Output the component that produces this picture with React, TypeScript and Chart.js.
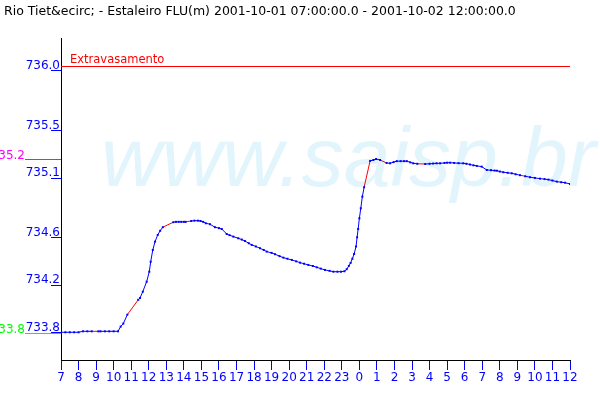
import React, { useEffect, useRef } from "react";
import { Chart, registerables } from "chart.js";

Chart.register(...registerables);

const TITLE = "Rio Tiet&ecirc; - Estaleiro FLU(m) 2001-10-01 07:00:00.0 - 2001-10-02 12:00:00.0";
const WATERMARK = "www.saisp.br";

// hours since 2001-10-01 00:00
const times = [
  7.0, 7.25, 7.5, 7.75, 8.0, 8.25, 8.5, 8.75,
  9.13, 9.25, 9.5, 9.75, 10.0, 10.25, 10.4, 10.55, 10.78,
  11.4, 11.5, 11.66, 11.88, 12.03, 12.11, 12.23, 12.36, 12.51, 12.65, 12.8,
  13.4, 13.55, 13.7, 13.85, 14.0, 14.1,
  14.42, 14.6, 14.8, 14.95, 15.1, 15.25, 15.49, 15.77, 16.0, 16.16, 16.44, 16.6, 16.82,
  17.1, 17.3, 17.48, 17.7, 17.87, 18.1, 18.34, 18.55, 18.72, 19.0, 19.19, 19.45, 19.67,
  19.9, 20.15, 20.4, 20.62, 20.85, 21.09, 21.35, 21.57, 21.8, 22.04, 22.3, 22.52, 22.75,
  22.95, 23.15, 23.28, 23.4, 23.5, 23.6, 23.7, 23.81, 23.87, 23.93, 24.0, 24.08, 24.17, 24.27,
  24.61, 24.8, 24.95, 25.18,
  25.55, 25.75, 25.95, 26.13, 26.35, 26.55, 26.7, 26.9, 27.07, 27.3,
  27.75, 28.0, 28.2, 28.4, 28.6, 28.85, 29.0, 29.17, 29.4, 29.65, 29.92, 30.1, 30.3, 30.5,
  30.69, 30.97, 31.26, 31.5, 31.7, 31.83, 32.0, 32.2, 32.45, 32.68, 32.9, 33.15, 33.45,
  33.72, 34.0, 34.29, 34.55, 34.77, 35.0, 35.25, 35.5, 35.72, 36.0,
];

const levels = [
  733.804, 733.804, 733.804, 733.804, 733.804, 733.812, 733.812, 733.812,
  733.812, 733.812, 733.812, 733.812, 733.812, 733.812, 733.852, 733.877, 733.952,
  734.077, 734.092, 734.145, 734.229, 734.313, 734.397, 734.496, 734.566, 734.622, 734.657, 734.687,
  734.729, 734.732, 734.732, 734.732, 734.732, 734.732,
  734.739, 734.742, 734.742, 734.739, 734.732, 734.72, 734.712, 734.687, 734.679, 734.672, 734.63, 734.62, 734.608,
  734.594, 734.583, 734.571, 734.552, 734.538, 734.525, 734.51, 734.496, 734.482, 734.471, 734.46, 734.444, 734.431,
  734.422, 734.412, 734.4, 734.389, 734.38, 734.37, 734.361, 734.35, 734.339, 734.328, 734.32, 734.313, 734.313,
  734.313, 734.317, 734.334, 734.362, 734.387, 734.422, 734.462, 734.525, 734.602, 734.672, 734.762, 734.846, 734.944, 735.023,
  735.244, 735.252, 735.26, 735.252,
  735.227, 735.224, 735.234, 735.242, 735.242, 735.242, 735.242, 735.232, 735.224, 735.22,
  735.218, 735.22, 735.222, 735.224, 735.224, 735.227, 735.229, 735.229, 735.227, 735.225, 735.224, 735.22, 735.214, 735.207,
  735.202, 735.196, 735.168, 735.166, 735.163, 735.162, 735.155, 735.149, 735.144, 735.14, 735.132, 735.124, 735.115,
  735.107, 735.101, 735.095, 735.091, 735.087, 735.079, 735.07, 735.065, 735.061, 735.05,
];

const yTickValues = [736.0, 735.5, 735.1, 734.6, 734.2, 733.8];
const xTickHours = Array.from({ length: 30 }, (_, i) => 7 + i);

const overflowLevel = 736.042;
const overflowLabel = "Extravasamento";
const alertLevel = 735.261;
const alertLabel = "735.2";
const baseLevel = 733.796;
const baseLabel = "733.8";

const FONT = '"DejaVu Sans", sans-serif';

export default function App() {
  const ref = useRef<HTMLCanvasElement | null>(null);

  useEffect(() => {
    document.body.style.margin = "0";
    const canvas = ref.current!;
    const extras = {
      id: "extras",
      beforeDatasetsDraw(chart: any) {
        const { ctx, chartArea } = chart;
        ctx.save();
        ctx.beginPath();
        ctx.rect(chartArea.left, chartArea.top, chartArea.right - chartArea.left + 30, chartArea.bottom - chartArea.top);
        ctx.clip();
        ctx.fillStyle = "rgb(226,245,253)";
        ctx.font = 'italic 84px "Liberation Sans", sans-serif';
        ctx.textAlign = "left";
        ctx.textBaseline = "alphabetic";
        ctx.fillText(WATERMARK, 101, 186);
        ctx.restore();
      },
      afterDraw(chart: any) {
        const { ctx, chartArea, scales } = chart;
        const y = scales.y;
        ctx.save();
        ctx.textBaseline = "alphabetic";
        // title
        ctx.font = "12.5px " + FONT;
        ctx.fillStyle = "#000";
        ctx.textAlign = "left";
        ctx.fillText(TITLE, 4, 15);
        ctx.font = "12px " + FONT;
        // overflow line
        const yo = Math.round(y.getPixelForValue(overflowLevel)) + 0.5;
        ctx.strokeStyle = "#ff0000";
        ctx.lineWidth = 1;
        ctx.beginPath();
        ctx.moveTo(chartArea.left, yo);
        ctx.lineTo(chartArea.right, yo);
        ctx.stroke();
        ctx.fillStyle = "#ff0000";
        ctx.font = "11.5px " + FONT;
        ctx.fillText(overflowLabel, 70, yo - 4);
        ctx.font = "12px " + FONT;
        // alert line
        const ya = Math.round(y.getPixelForValue(alertLevel)) + 0.5;
        ctx.strokeStyle = "#ff00ff";
        ctx.beginPath();
        ctx.moveTo(25, ya);
        ctx.lineTo(chartArea.left, ya);
        ctx.stroke();
        ctx.fillStyle = "#ff00ff";
        ctx.textAlign = "right";
        ctx.fillText(alertLabel, 25, ya - 1);
        // base line
        const yb = Math.round(y.getPixelForValue(baseLevel)) + 0.5;
        ctx.strokeStyle = "#00ff00";
        ctx.beginPath();
        ctx.moveTo(25, yb);
        ctx.lineTo(chartArea.left, yb);
        ctx.stroke();
        ctx.fillStyle = "#00ff00";
        ctx.fillText(baseLabel, 25, yb - 1);
        ctx.restore();
      },
    };

    const chart = new Chart(canvas, {
      type: "line",
      data: {
        datasets: [
          {
            data: times.map((t, i) => ({ x: t, y: levels[i] })),
            borderColor: "#0000ff",
            backgroundColor: "#0000ff",
            borderWidth: 1,
            pointStyle: "rect",
            pointRadius: 1.4,
            pointBorderWidth: 0,
            tension: 0,
            segment: {
              borderColor: (c: any) => (c.p1.parsed.x - c.p0.parsed.x > 0.3 ? "#ff0000" : "#0000ff"),
            },
          },
        ],
      },
      options: {
        animation: false,
        responsive: false,
        maintainAspectRatio: false,
        layout: { padding: { top: 38, right: 30, left: 0, bottom: 0 } },
        plugins: { legend: { display: false }, tooltip: { enabled: false }, title: { display: false } },
        scales: {
          x: {
            type: "linear",
            min: 7,
            max: 36,
            afterBuildTicks: (s: any) => {
              s.ticks = xTickHours.map((v) => ({ value: v }));
            },
            afterFit: (s: any) => {
              s.height = 40;
            },
            ticks: {
              autoSkip: false,
              maxRotation: 0,
              color: "#0000ff",
              font: { family: FONT, size: 12 },
              padding: 1,
              callback: (v: any) => String(Number(v) % 24),
            },
            grid: { drawOnChartArea: false, color: "#0000ff", tickLength: 10 },
            border: { color: "#000000" },
          },
          y: {
            type: "linear",
            min: 733.571,
            max: 736.277,
            afterBuildTicks: (s: any) => {
              s.ticks = yTickValues.map((v) => ({ value: v }));
            },
            afterFit: (s: any) => {
              s.width = 61;
            },
            ticks: {
              color: "#0000ff",
              font: { family: FONT, size: 12 },
              padding: -9,
              labelOffset: -5,
              callback: (v: any) => Number(v).toFixed(1),
            },
            grid: { drawOnChartArea: false, color: "#0000ff", tickLength: 10 },
            border: { color: "#000000" },
          },
        },
      },
      plugins: [extras],
    });
    return () => chart.destroy();
  }, []);

  return (
    <div style={{ width: 600, height: 400, background: "#fff" }}>
      <canvas ref={ref} width={600} height={400} />
    </div>
  );
}
